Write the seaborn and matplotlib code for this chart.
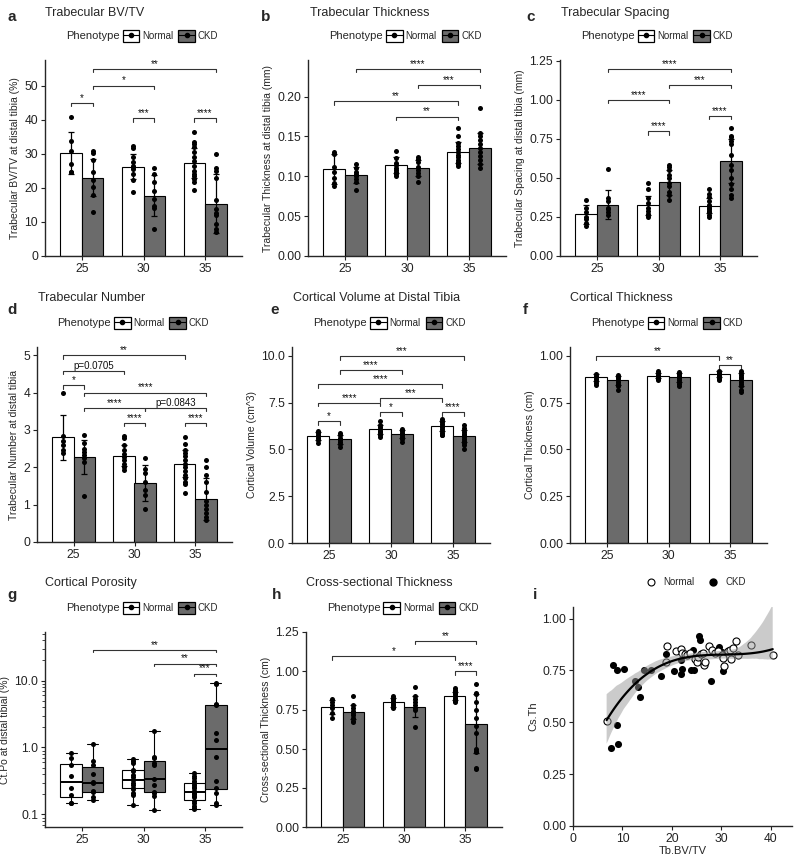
import numpy as np
import pandas as pd
import matplotlib
matplotlib.use('Agg')
import matplotlib.pyplot as plt
import seaborn as sns
from matplotlib.patches import Patch
from matplotlib.lines import Line2D
from matplotlib.collections import PolyCollection
from matplotlib.ticker import FormatStrFormatter, FixedLocator, LogLocator, NullFormatter

ages = [25, 30, 35]
phenotypes = ['Normal', 'CKD']

# a - trabecular BV/TV (%)
bvtv_mean_n = [30.2, 26.2, 27.3]
bvtv_mean_c = [23.0, 17.7, 15.4]
bvtv_sd_n = [6.2, 3.7, 4.5]
bvtv_sd_c = [5.4, 6.1, 8.6]
bvtv_pts_n = [[40.7, 33.6, 30.7, 27.0, 24.7, 24.5],
              [32.2, 31.7, 29.1, 27.5, 26.5, 26.0, 25.4, 24.0, 22.3, 18.9],
              [36.4, 33.3, 32.8, 31.9, 30.4, 28.9, 27.9, 26.5, 25.0, 24.0, 23.5, 22.5, 21.6, 19.4]]
bvtv_pts_c = [[30.7, 30.3, 28.1, 24.6, 22.3, 20.1, 17.9, 12.9],
              [25.8, 24.0, 21.6, 19.1, 16.7, 14.7, 14.2, 8.0],
              [29.9, 25.8, 25.0, 23.0, 16.4, 13.7, 12.7, 12.1, 9.3, 7.8, 6.9]]
bvtv_brackets = [('25N', '25C', 45.0, '*'), ('25C', '30C', 50.0, '*'), ('25C', '35C', 54.9, '**'),
                 ('30N', '30C', 40.4, '***'), ('35N', '35C', 40.4, '****')]

# b - trabecular thickness (mm)
tbth_mean_n = [0.109, 0.114, 0.130]
tbth_mean_c = [0.102, 0.111, 0.135]
tbth_sd_n = [0.019, 0.010, 0.013]
tbth_sd_c = [0.010, 0.010, 0.019]
tbth_pts_n = [[0.130, 0.128, 0.112, 0.105, 0.098, 0.092, 0.088],
              [0.132, 0.123, 0.117, 0.114, 0.111, 0.108, 0.105, 0.103, 0.100],
              [0.161, 0.150, 0.142, 0.138, 0.134, 0.130, 0.127, 0.124, 0.121, 0.118, 0.115, 0.113]]
tbth_pts_c = [[0.115, 0.110, 0.106, 0.103, 0.100, 0.097, 0.093, 0.083],
              [0.124, 0.122, 0.118, 0.112, 0.108, 0.104, 0.100, 0.093],
              [0.186, 0.154, 0.150, 0.145, 0.140, 0.135, 0.130, 0.125, 0.120, 0.115, 0.110]]
tbth_brackets = [('25C', '35C', 0.235, '****'), ('30C', '35C', 0.215, '***'),
                 ('25N', '35N', 0.1945, '**'), ('30N', '35N', 0.175, '**')]

# c - trabecular spacing (mm)
tbsp_mean_n = [0.268, 0.325, 0.323]
tbsp_mean_c = [0.330, 0.473, 0.610]
tbsp_sd_n = [0.06, 0.06, 0.05]
tbsp_sd_c = [0.09, 0.08, 0.14]
tbsp_pts_n = [[0.36, 0.31, 0.28, 0.25, 0.24, 0.21, 0.19],
              [0.47, 0.43, 0.37, 0.34, 0.31, 0.29, 0.27, 0.26, 0.25],
              [0.43, 0.40, 0.38, 0.35, 0.33, 0.32, 0.31, 0.30, 0.29, 0.28, 0.26, 0.25]]
tbsp_pts_c = [[0.56, 0.37, 0.35, 0.31, 0.30, 0.28, 0.26],
              [0.58, 0.57, 0.55, 0.52, 0.50, 0.47, 0.45, 0.41, 0.39, 0.36],
              [0.82, 0.77, 0.76, 0.74, 0.72, 0.65, 0.58, 0.55, 0.50, 0.46, 0.43, 0.39, 0.37]]
tbsp_brackets = [('25C', '35C', 1.199, '****'), ('30C', '35C', 1.096, '***'), ('25C', '30C', 1.0, '****'),
                 ('35N', '35C', 0.899, '****'), ('30N', '30C', 0.80, '****')]

# d - trabecular number
tbn_mean_n = [2.80, 2.31, 2.10]
tbn_mean_c = [2.27, 1.58, 1.15]
tbn_sd_n = [0.60, 0.28, 0.35]
tbn_sd_c = [0.45, 0.47, 0.55]
tbn_pts_n = [[3.98, 2.85, 2.70, 2.60, 2.45, 2.38],
             [2.85, 2.78, 2.60, 2.45, 2.35, 2.28, 2.20, 2.10, 2.00, 1.93],
             [2.81, 2.62, 2.45, 2.38, 2.30, 2.20, 2.10, 2.00, 1.90, 1.80, 1.72, 1.60, 1.55, 1.32]]
tbn_pts_c = [[2.87, 2.65, 2.50, 2.40, 2.32, 2.25, 2.15, 1.22],
             [2.24, 1.95, 1.85, 1.60, 1.40, 1.25, 0.88],
             [2.19, 2.02, 1.80, 1.60, 1.35, 1.10, 0.98, 0.88, 0.78, 0.68, 0.60]]
tbn_brackets = [('25N', '35N', 5.0, '**'), ('25N', '30N', 4.58, 'p=0.0705'), ('25N', '25C', 4.2, '*'),
                ('25C', '35C', 4.0, '****'), ('25C', '30C', 3.59, '****'), ('30C', '35C', 3.59, 'p=0.0843'),
                ('30N', '30C', 3.19, '****'), ('35N', '35C', 3.19, '****')]

# e - cortical volume (cm^3)
ctv_mean_n = [5.72, 6.08, 6.26]
ctv_mean_c = [5.54, 5.83, 5.72]
ctv_sd_n = [0.20, 0.25, 0.25]
ctv_sd_c = [0.22, 0.22, 0.33]
ctv_pts_n = [[6.0, 5.9, 5.8, 5.7, 5.6, 5.5, 5.35],
             [6.5, 6.3, 6.2, 6.1, 6.0, 5.95, 5.85, 5.75, 5.65],
             [6.65, 6.55, 6.45, 6.35, 6.25, 6.2, 6.1, 6.0, 5.9, 5.8, 5.75]]
ctv_pts_c = [[5.9, 5.75, 5.6, 5.5, 5.4, 5.3, 5.15],
             [6.1, 6.0, 5.9, 5.85, 5.75, 5.65, 5.55, 5.4],
             [6.3, 6.15, 6.05, 5.95, 5.85, 5.75, 5.65, 5.55, 5.45, 5.35, 5.25, 5.05]]
ctv_brackets = [('25C', '35C', 10.0, '***'), ('25C', '30C', 9.25, '****'), ('25N', '35N', 8.5, '****'),
                ('30N', '35N', 7.75, '***'), ('25N', '30N', 7.5, '****'), ('25N', '25C', 6.5, '*'),
                ('30N', '30C', 7.0, '*'), ('35N', '35C', 7.0, '****')]

# f - cortical thickness (cm)
ctth_mean_n = [0.885, 0.895, 0.904]
ctth_mean_c = [0.870, 0.885, 0.872]
ctth_sd_n = [0.020, 0.015, 0.015]
ctth_sd_c = [0.025, 0.025, 0.035]
ctth_pts_n = [[0.905, 0.895, 0.885, 0.875, 0.865, 0.855, 0.845],
              [0.92, 0.91, 0.90, 0.895, 0.89, 0.885, 0.88, 0.875, 0.87],
              [0.92, 0.915, 0.91, 0.905, 0.90, 0.895, 0.89, 0.885, 0.88, 0.875, 0.87]]
ctth_pts_c = [[0.90, 0.89, 0.88, 0.87, 0.86, 0.85, 0.84, 0.82],
              [0.915, 0.905, 0.895, 0.89, 0.885, 0.88, 0.87, 0.86, 0.85, 0.84],
              [0.92, 0.91, 0.90, 0.89, 0.88, 0.87, 0.86, 0.85, 0.84, 0.82, 0.81]]
ctth_brackets = [('25N', '35N', 1.0, '**'), ('35N', '35C', 0.95, '**')]

# g - cortical porosity (%), log scale
ctpo_pts_n = [[0.84, 0.69, 0.54, 0.38, 0.25, 0.195, 0.146, 0.146],
              [0.67, 0.63, 0.58, 0.46, 0.45, 0.39, 0.36, 0.33, 0.30, 0.28, 0.25, 0.24, 0.21, 0.195, 0.14],
              [0.41, 0.38, 0.35, 0.32, 0.30, 0.28, 0.26, 0.245, 0.225, 0.21, 0.20, 0.19, 0.18, 0.16,
               0.146, 0.135, 0.127, 0.12]]
ctpo_pts_c = [[1.12, 0.62, 0.55, 0.40, 0.31, 0.29, 0.225, 0.215, 0.185, 0.167],
              [1.77, 0.72, 0.70, 0.58, 0.55, 0.335, 0.28, 0.22, 0.21, 0.19, 0.116],
              [9.1, 9.0, 4.5, 4.3, 1.67, 1.29, 0.71, 0.32, 0.25, 0.21, 0.148, 0.14]]
ctpo_brackets = [('25C', '35C', 28.4, '**'), ('30C', '35C', 17.9, '**'), ('35N', '35C', 12.7, '***')]

# h - cross-sectional thickness (cm)
csth_mean_n = [0.772, 0.800, 0.838]
csth_mean_c = [0.740, 0.772, 0.663]
csth_sd_n = [0.045, 0.030, 0.025]
csth_sd_c = [0.045, 0.065, 0.190]
csth_pts_n = [[0.82, 0.80, 0.78, 0.76, 0.73, 0.70],
              [0.84, 0.83, 0.82, 0.81, 0.80, 0.79, 0.78, 0.77, 0.76],
              [0.89, 0.88, 0.87, 0.86, 0.85, 0.84, 0.83, 0.82, 0.81, 0.80]]
csth_pts_c = [[0.84, 0.78, 0.76, 0.745, 0.73, 0.72, 0.70, 0.68, 0.67],
              [0.90, 0.84, 0.82, 0.80, 0.78, 0.76, 0.75, 0.64],
              [0.915, 0.86, 0.85, 0.80, 0.75, 0.70, 0.65, 0.60, 0.50, 0.49, 0.48, 0.38, 0.37]]
csth_brackets = [('30C', '35C', 1.195, '**'), ('25N', '35N', 1.096, '*'), ('35N', '35C', 1.0, '****')]

# i - Cs.Th vs Tb.BV/TV
norm_x = [6.8, 18.8, 19.1, 20.9, 21.8, 22.0, 22.6, 23.0, 23.6, 24.7, 25.0, 25.3, 25.8, 26.2, 26.6, 26.8,
          27.5, 28.2, 28.7, 29.4, 30.1, 30.3, 30.5, 31.4, 31.8, 32.0, 32.3, 32.9, 33.3, 36.1, 40.4]
norm_y = [0.507, 0.79, 0.867, 0.843, 0.852, 0.835, 0.831, 0.823, 0.835, 0.807, 0.791, 0.815, 0.828, 0.835,
          0.778, 0.79, 0.867, 0.851, 0.835, 0.843, 0.823, 0.812, 0.77, 0.843, 0.851, 0.803, 0.86, 0.891,
          0.826, 0.872, 0.823]
ckd_x = [6.8, 7.6, 8.0, 8.9, 9.0, 9.1, 10.3, 12.5, 13.2, 13.5, 14.3, 15.7, 17.9, 18.9, 20.5, 21.8, 21.8,
         22.0, 23.9, 24.5, 24.3, 25.5, 25.7, 28.0, 29.6, 30.1, 30.4]
ckd_y = [0.507, 0.374, 0.777, 0.486, 0.754, 0.395, 0.759, 0.70, 0.671, 0.623, 0.754, 0.754, 0.722, 0.831,
         0.748, 0.732, 0.80, 0.759, 0.754, 0.754, 0.847, 0.917, 0.899, 0.70, 0.864, 0.84, 0.748]

GRAY = '#6b6b6b'
OFF = 0.175
W, H = 800, 859
TICK = 8.7

sns.set_theme(style='ticks')
plt.rcParams['font.family'] = ['Liberation Sans', 'DejaVu Sans']
plt.rcParams['axes.linewidth'] = 1.0

fig = plt.figure(figsize=(W / 100, H / 100), dpi=100)


def add_ax(l, r, t, b):
    return fig.add_axes([l / W, 1 - b / H, (r - l) / W, (b - t) / H])


def xpos(key):
    return ages.index(int(key[:2])) + (-OFF if key[2] == 'N' else OFF)


def points_frame(pts_n, pts_c):
    rows = []
    for ph, pts in [('Normal', pts_n), ('CKD', pts_c)]:
        for i, vals in enumerate(pts):
            for v in vals:
                rows.append((ages[i], ph, i + (-OFF if ph == 'Normal' else OFF), v))
    return pd.DataFrame(rows, columns=['age', 'Phenotype', 'x', 'value'])


def draw_brackets(ax, brackets, tip, log=False):
    for g1, g2, y, lab in brackets:
        x1, x2 = xpos(g1), xpos(g2)
        y0 = y / tip if log else y - tip
        ax.plot([x1, x1, x2, x2], [y0, y, y, y0], color='#333333', lw=0.8)
        ax.text((x1 + x2) / 2, y, lab, ha='center', va='bottom', fontsize=7, color='#111111')


def pheno_legend(ax):
    hs = []
    for c in ['white', GRAY]:
        hs.append((Patch(facecolor=c, edgecolor='black', lw=0.9),
                   Line2D([], [], color='black', lw=0.8, marker='o', ms=3)))
    ax.text(0.38, 1.122, 'Phenotype', transform=ax.transAxes, ha='right', va='center', fontsize=8)
    ax.legend(hs, phenotypes, loc='center left', bbox_to_anchor=(0.395, 1.122), ncol=2, frameon=False,
              fontsize=7, handlelength=1.7, handleheight=1.6, handletextpad=0.3, columnspacing=0.5,
              borderpad=0, borderaxespad=0)


def style_ax(ax, ylabel, yticks, fmt, ymax):
    sns.despine(ax=ax)
    ax.set_xlim(-0.6, 2.6)
    ax.set_ylim(0, ymax)
    ax.yaxis.set_major_locator(FixedLocator(yticks))
    ax.yaxis.set_major_formatter(FormatStrFormatter(fmt))
    ax.set_xlabel('')
    ax.set_ylabel(ylabel, fontsize=7.5, labelpad=3)
    ax.tick_params(length=3, width=0.8, labelsize=TICK, pad=2, colors='#222222')


def bar_panel(ax, mean_n, mean_c, sd_n, sd_c, pts_n, pts_c):
    bars = pd.DataFrame({'age': ages * 2, 'Phenotype': ['Normal'] * 3 + ['CKD'] * 3,
                         'mean': mean_n + mean_c, 'sd': sd_n + sd_c})
    bars['x'] = [i - OFF for i in range(3)] + [i + OFF for i in range(3)]
    sns.barplot(data=bars, x='age', y='mean', hue='Phenotype', hue_order=phenotypes,
                palette={'Normal': 'white', 'CKD': GRAY}, saturation=1, width=0.7,
                edgecolor='black', linewidth=0.8, errorbar=None, legend=False, ax=ax)
    ax.errorbar(bars['x'], bars['mean'], yerr=bars['sd'], fmt='none', ecolor='black',
                elinewidth=0.9, capsize=2.2, capthick=0.9, zorder=3)
    pts = points_frame(pts_n, pts_c)
    sns.scatterplot(data=pts, x='x', y='value', color='black', s=13, linewidth=0,
                    legend=False, zorder=4, ax=ax)
    pheno_legend(ax)


panels = [
    ((45, 242, 60, 256), bvtv_mean_n, bvtv_mean_c, bvtv_sd_n, bvtv_sd_c, bvtv_pts_n, bvtv_pts_c,
     bvtv_brackets, 'Trabecular BV/TV at distal tibia (%)', [0, 10, 20, 30, 40, 50], '%d', 57.5),
    ((308, 506, 60, 256), tbth_mean_n, tbth_mean_c, tbth_sd_n, tbth_sd_c, tbth_pts_n, tbth_pts_c,
     tbth_brackets, 'Trabecular Thickness at distal tibia (mm)', [0, 0.05, 0.10, 0.15, 0.20], '%.2f', 0.246),
    ((560, 757, 60, 256), tbsp_mean_n, tbsp_mean_c, tbsp_sd_n, tbsp_sd_c, tbsp_pts_n, tbsp_pts_c,
     tbsp_brackets, 'Trabecular Spacing at distal tibia (mm)', [0, 0.25, 0.5, 0.75, 1.0, 1.25], '%.2f', 1.256),
    ((37, 232, 347, 542), tbn_mean_n, tbn_mean_c, tbn_sd_n, tbn_sd_c, tbn_pts_n, tbn_pts_c,
     tbn_brackets, 'Trabecular Number at distal tibia', [0, 1, 2, 3, 4, 5], '%d', 5.22),
    ((292, 490, 347, 543), ctv_mean_n, ctv_mean_c, ctv_sd_n, ctv_sd_c, ctv_pts_n, ctv_pts_c,
     ctv_brackets, 'Cortical Volume (cm^3)', [0, 2.5, 5.0, 7.5, 10.0], '%.1f', 10.48),
    ((570, 767, 347, 543), ctth_mean_n, ctth_mean_c, ctth_sd_n, ctth_sd_c, ctth_pts_n, ctth_pts_c,
     ctth_brackets, 'Cortical Thickness (cm)', [0, 0.25, 0.5, 0.75, 1.0], '%.2f', 1.048),
    ((306, 502, 632, 827), csth_mean_n, csth_mean_c, csth_sd_n, csth_sd_c, csth_pts_n, csth_pts_c,
     csth_brackets, 'Cross-sectional Thickness (cm)', [0, 0.25, 0.5, 0.75, 1.0, 1.25], '%.2f', 1.25),
]

for box, mn, mc, sn, sc, pn, pc, br, ylab, yt, fmt, ymax in panels:
    ax = add_ax(*box)
    bar_panel(ax, mn, mc, sn, sc, pn, pc)
    style_ax(ax, ylab, yt, fmt, ymax)
    draw_brackets(ax, br, 0.018 * ymax)

# g - boxplot on log scale
ax = add_ax(45, 242, 632, 827)
pts = points_frame(ctpo_pts_n, ctpo_pts_c)
sns.boxplot(data=pts, x='age', y='value', hue='Phenotype', hue_order=phenotypes,
            palette={'Normal': 'white', 'CKD': GRAY}, saturation=1, width=0.7, gap=0,
            linecolor='black', linewidth=0.8, showfliers=False, log_scale=True, legend=False,
            medianprops={'linewidth': 1.4}, ax=ax)
sns.scatterplot(data=pts, x='x', y='value', color='black', s=13, linewidth=0, legend=False, zorder=4, ax=ax)
sns.despine(ax=ax)
ax.set_xlim(-0.6, 2.6)
ax.set_ylim(0.065, 53)
ax.yaxis.set_major_locator(FixedLocator([0.1, 1, 10]))
ax.yaxis.set_major_formatter(FormatStrFormatter('%.1f'))
ax.yaxis.set_minor_locator(LogLocator(base=10, subs=np.arange(2, 10)))
ax.yaxis.set_minor_formatter(NullFormatter())
ax.set_xlabel('')
ax.set_ylabel('Ct.Po at distal tibial (%)', fontsize=7.5, labelpad=3)
ax.tick_params(length=3, width=0.8, labelsize=TICK, pad=2, colors='#222222')
ax.tick_params(which='minor', length=2, width=0.6)
draw_brackets(ax, ctpo_brackets, 1.08, log=True)
pheno_legend(ax)

# i - scatter with smooth
ax = add_ax(573, 792, 607, 826)
sns.scatterplot(x=ckd_x, y=ckd_y, color='black', s=26, linewidth=0, ax=ax)
sns.scatterplot(x=norm_x, y=norm_y, color='white', edgecolor='black', s=26, linewidth=0.8, ax=ax)
sns.regplot(x=norm_x + ckd_x, y=norm_y + ckd_y, order=3, scatter=False, color='black', ci=95, seed=1,
            truncate=True, line_kws={'lw': 1.6}, ax=ax)
for coll in ax.collections:
    if isinstance(coll, PolyCollection):
        coll.set_facecolor('#999999')
        coll.set_alpha(0.5)
        coll.set_edgecolor('none')
sns.despine(ax=ax)
ax.set_xlim(0, 44.3)
ax.set_ylim(0, 1.056)
ax.set_xticks([0, 10, 20, 30, 40])
ax.set_yticks([0, 0.25, 0.5, 0.75, 1.0])
ax.yaxis.set_major_formatter(FormatStrFormatter('%.2f'))
ax.set_xlabel('Tb.BV/TV', fontsize=8, labelpad=1)
ax.set_ylabel('Cs.Th', fontsize=8, labelpad=3)
ax.tick_params(length=3, width=0.8, labelsize=TICK, pad=2, colors='#222222')
hs = [Line2D([], [], ls='none', marker='o', mfc='white', mec='black', ms=5, mew=0.8),
      Line2D([], [], ls='none', marker='o', color='black', ms=5)]
ax.legend(hs, phenotypes, loc='center', bbox_to_anchor=(0.55, 1.114), ncol=2, frameon=False, fontsize=7,
          handletextpad=0.2, columnspacing=1.0, borderpad=0, borderaxespad=0)

# titles and panel letters (pixel positions)
titles = [('Trabecular BV/TV', 45, 13), ('Trabecular Thickness', 310, 13), ('Trabecular Spacing', 561, 13),
          ('Trabecular Number', 38, 298), ('Cortical Volume at Distal Tibia', 293, 298),
          ('Cortical Thickness', 570, 298), ('Cortical Porosity', 45, 583),
          ('Cross-sectional Thickness', 306, 583)]
for t, x, y in titles:
    fig.text(x / W, 1 - y / H, t, fontsize=9, ha='left', va='center')
letters = [('a', 12, 17), ('b', 266, 17), ('c', 531, 17), ('d', 12, 310), ('e', 275, 310),
           ('f', 525, 310), ('g', 12, 595), ('h', 277, 595), ('i', 535, 595)]
for t, x, y in letters:
    fig.text(x / W, 1 - y / H, t, fontsize=11, fontweight='bold', ha='center', va='center')

fig.savefig('out.png', dpi=100)
